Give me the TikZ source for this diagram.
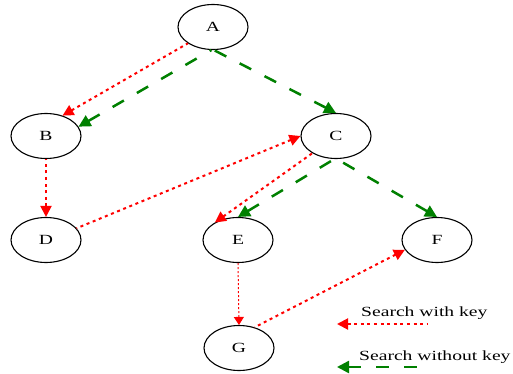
\documentclass[tikz,border=0pt]{standalone}
\usepackage{fontspec}
\setmainfont{Liberation Serif}[FakeStretch=1.4]
\usetikzlibrary{arrows.meta,shapes.geometric}
\definecolor{kred}{RGB}{255,0,0}
\definecolor{kgreen}{RGB}{0,128,0}
\begin{document}
\begin{tikzpicture}[x=1pt,y=-1pt,
  nd/.style={ellipse, draw, line width=1.1pt, minimum width=70pt, minimum height=45pt, inner sep=0pt, font=\fontsize{14}{16}\selectfont},
  withkey/.style={draw=kred, line width=2pt, dash pattern=on 3pt off 3.6pt, {Triangle[length=11pt,width=11pt,fill=kred]}-},
  withkeythin/.style={draw=kred, line width=1pt, dash pattern=on 2pt off 2pt, {Triangle[length=8pt,width=10pt,fill=kred]}-},
  nokey/.style={draw=kgreen, line width=2.5pt, dash pattern=on 13pt off 15pt, {Triangle[length=12pt,width=12pt,fill=kgreen]}-},
  legtext/.style={anchor=base west, inner sep=0pt, font=\fontsize{14}{16}\selectfont}]
\useasboundingbox (0,0) rectangle (513,374);
\node[nd] (A) at (213,27) {A};
\node[nd] (B) at (46,136) {B};
\node[nd] (C) at (336,136) {C};
\node[nd] (D) at (46,240) {D};
\node[nd] (E) at (238,240) {E};
\node[nd] (F) at (437,240) {F};
\node[nd] (G) at (239,348) {G};
% arrows are drawn from head to tail so the pattern starts at the head
\draw[withkey] (B.51) -- (A.213);
\draw[nokey] (B.16) -- (A.266);
\draw[nokey] (C.north) -- (A.272);
\draw[withkey] (D.north) -- (B.south);
\draw[withkey] (C.west) -- (D.21);
\draw[withkey] (E.143) -- (C.216);
\draw[nokey] (E.north) -- (C.266);
\draw[nokey] (F.north) -- (C.272);
\draw[withkeythin] (G.north) -- (E.south);
\draw[withkey] (F.197) -- (G.53);
\node[legtext] (l1) at (361,316) {Search with key};
\node[legtext] (l2) at (359,360) {Search without key};
\coordinate (r1) at (428,324);
\coordinate (r2) at (337,324);
\coordinate (g1) at (428,367);
\coordinate (g2) at (337,367);
\draw[withkey] (r2) -- (r1);
\draw[nokey] (g2) -- (g1);
\end{tikzpicture}
\end{document}
